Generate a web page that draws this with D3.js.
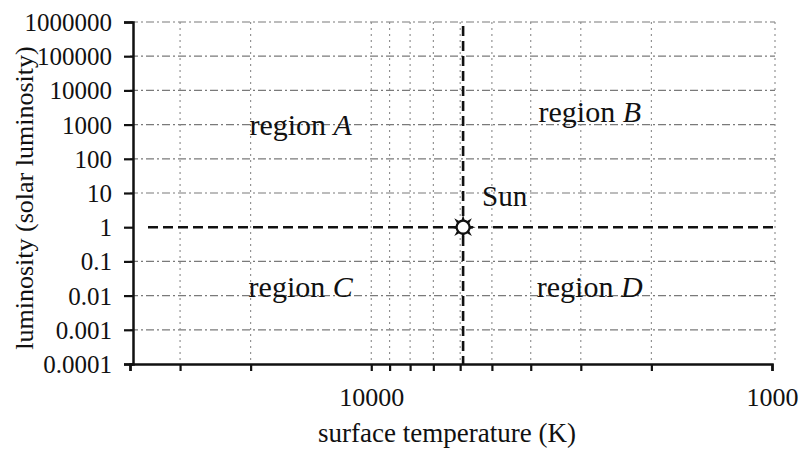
<!DOCTYPE html>
<html>
<head>
<meta charset="utf-8">
<script src="https://cdn.jsdelivr.net/npm/d3@7"></script>
<style>
  html, body { margin: 0; padding: 0; background: #fff; }
  svg { display: block; }
  text { font-family: "Liberation Serif", "DejaVu Serif", serif; fill: #111; }
</style>
</head>
<body>
<svg id="chart" width="807" height="452"></svg>
<script>
// ---- data ----
const tempDomain = [40000, 1000];                 // K, reversed log axis
const lumDomain = [0.0001, 1000000];              // solar luminosity
const tempTicks = [40000, 30000, 20000, 10000, 9000, 8000, 7000, 6000, 5000, 4000, 3000, 2000, 1000];
const tempTickLabels = [10000, 1000];
const tempGrid = [30000, 20000, 10000, 9000, 8000, 7000, 6000, 5000, 4000, 3000, 2000, 1000];
const lumTicks = [0.0001, 0.001, 0.01, 0.1, 1, 10, 100, 1000, 10000, 100000, 1000000];
const lumTickLabels = ["0.0001", "0.001", "0.01", "0.1", "1", "10", "100", "1000", "10000", "100000", "1000000"];
const sun = { temp: 5900, lum: 1, label: "Sun" };
const regionNames = ["region ", "region ", "region ", "region "];
const regionLetters = ["A", "B", "C", "D"];
const regionTemps = [15000, 2850, 15000, 2850];
const regionLums = [500, 1200, 0.009, 0.009];
const xTitle = "surface temperature (K)";
const yTitle = "luminosity (solar luminosity)";

// ---- layout ----
const svg = d3.select("#chart");
const mLeft = 130, mRight = 772, mTop = 22, mBottom = 364;

const x = d3.scaleLog().domain(tempDomain).range([mLeft, mRight]);
const y = d3.scaleLog().domain(lumDomain).range([mBottom, mTop]);

// grid lines
const grid = svg.append("g");
grid.selectAll("line.h").data(lumTicks.filter(v => v > lumDomain[0] && v !== sun.lum))
  .join("line")
  .attr("x1", mLeft).attr("x2", mRight + 3)
  .attr("y1", d => y(d)).attr("y2", d => y(d))
  .attr("stroke", "#7a7a7a").attr("stroke-width", 1.2)
  .attr("stroke-dasharray", "8,3,2,3");
grid.selectAll("line.v").data(tempGrid)
  .join("line")
  .attr("x1", d => x(d) + (d === 1000 ? 3 : 0)).attr("x2", d => x(d) + (d === 1000 ? 3 : 0))
  .attr("y1", mTop).attr("y2", mBottom)
  .attr("stroke", "#8a8a8a").attr("stroke-width", 1.1)
  .attr("stroke-dasharray", "2,4");

// axes
const xAxis = d3.axisBottom(x)
  .tickValues(tempTicks)
  .tickSize(7)
  .tickFormat(d => tempTickLabels.includes(d) ? String(d) : "");
const gx = svg.append("g").attr("transform", `translate(0,${mBottom})`).call(xAxis);
gx.select(".domain").attr("stroke", "#111").attr("stroke-width", 2.5);
gx.selectAll(".tick line").attr("stroke", "#111").attr("stroke-width", 2.2);
gx.selectAll(".tick text").attr("font-size", 26).attr("dy", 0).attr("y", 42)
  .attr("font-family", "Liberation Serif").attr("fill", "#111");

const yAxis = d3.axisLeft(y)
  .tickValues(lumTicks)
  .tickSize(9)
  .tickFormat((d, i) => lumTickLabels[i]);
const gy = svg.append("g").attr("transform", `translate(${mLeft + 3},0)`).call(yAxis);
gy.select(".domain").attr("stroke", "#111").attr("stroke-width", 2.5);
gy.selectAll(".tick line").attr("stroke", "#111").attr("stroke-width", 2.2);
gy.selectAll(".tick text").attr("font-size", 25).attr("x", -21).attr("dy", "0.34em")
  .attr("font-family", "Liberation Serif").attr("fill", "#111");

// Sun reference lines
svg.append("line")
  .attr("x1", mLeft + 18).attr("x2", mRight + 3)
  .attr("y1", y(sun.lum)).attr("y2", y(sun.lum))
  .attr("stroke", "#111").attr("stroke-width", 2.6).attr("stroke-dasharray", "10,5");
svg.append("line")
  .attr("x1", x(sun.temp)).attr("x2", x(sun.temp))
  .attr("y1", mTop + 4).attr("y2", mBottom)
  .attr("stroke", "#111").attr("stroke-width", 2.6).attr("stroke-dasharray", "10,5");

// Sun marker
const sx = x(sun.temp), sy = y(sun.lum);
const sunG = svg.append("g").attr("transform", `translate(${sx},${sy})`);
const rays = d3.range(8).map(i => i * Math.PI / 4);
sunG.selectAll("path.ray").data(rays).join("path")
  .attr("d", a => {
    const r0 = 6, r1 = 12.5, w = 0.33;
    const p = (r, t) => [r * Math.cos(t), r * Math.sin(t)];
    const a1 = p(r0, a - w), a2 = p(r1, a), a3 = p(r0, a + w);
    return `M${a1}L${a2}L${a3}Z`;
  })
  .attr("fill", "#111");
sunG.append("circle").attr("r", 6.5).attr("fill", "#fff").attr("stroke", "#111").attr("stroke-width", 2.2);

svg.append("text")
  .attr("x", sx + 19).attr("y", sy - 21)
  .attr("font-size", 29)
  .text(sun.label);

// region labels
const rl = svg.selectAll("text.region").data(regionLetters).join("text")
  .attr("class", "region")
  .attr("x", (d, i) => x(regionTemps[i])).attr("y", (d, i) => y(regionLums[i]))
  .attr("text-anchor", "middle")
  .attr("font-size", 30);
rl.append("tspan").text((d, i) => regionNames[i]);
rl.append("tspan").attr("font-style", "italic").text(d => d);

// axis titles
svg.append("text")
  .attr("x", 447).attr("y", 442)
  .attr("text-anchor", "middle").attr("font-size", 27)
  .text(xTitle);
svg.append("text")
  .attr("transform", `translate(33,198) rotate(-90)`)
  .attr("text-anchor", "middle").attr("font-size", 26)
  .text(yTitle);
</script>
</body>
</html>
